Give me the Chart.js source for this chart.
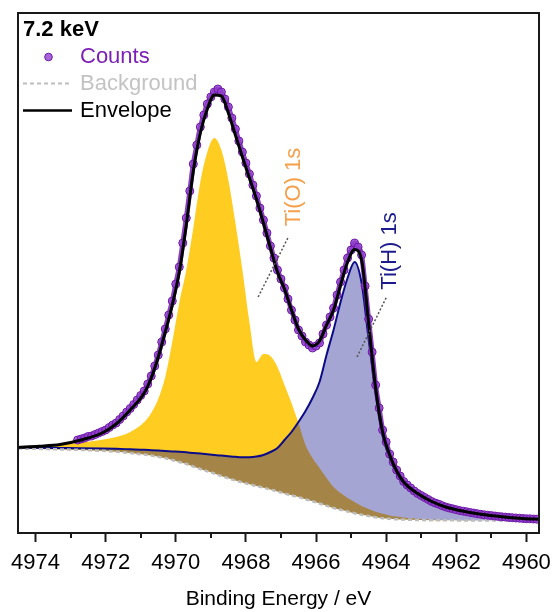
<!DOCTYPE html>
<html>
<head>
<meta charset="utf-8">
<title>Ti 1s HAXPES - 7.2 keV</title>
<script src="https://cdn.jsdelivr.net/npm/chart.js@4.4.1/dist/chart.umd.min.js"></script>
<style>
  html, body { margin: 0; padding: 0; background: #fff; }
  #wrap { position: relative; width: 553px; height: 612px; }
</style>
</head>
<body>
<div id="wrap"><canvas id="spectrum"></canvas></div>
<script>
/* ========================================
   Ti 1s spectrum at 7.2 keV
   binding energy in eV, intensity in arb. units
   ======================================== */

// energy grid of the fitted curves
const fitEnergy = [
  4974.5, 4973.9, 4973.3, 4972.7, 4972.1, 4971.7, 4971.3, 4970.9, 4970.7, 4970.5,
  4970.3, 4970.1, 4969.9, 4969.7, 4969.5, 4969.3, 4969.1, 4968.9, 4968.7, 4968.5,
  4968.3, 4968.1, 4967.9, 4967.7, 4967.5, 4967.3, 4967.1, 4966.9, 4966.7, 4966.5,
  4966.3, 4966.1, 4965.9, 4965.7, 4965.5, 4965.3, 4965.1, 4964.9, 4964.7, 4964.5,
  4964.3, 4964.1, 4963.9, 4963.7, 4963.5, 4963.1, 4962.7, 4962.3, 4961.9, 4961.3,
  4960.7, 4960.1, 4959.6
];

const backgroundFit = [
  84.5, 84.1, 83.6, 83.1, 82.2, 81.3, 80, 78.4, 77.4, 76.2,
  74.8, 73, 71, 69, 66.5, 64, 61.7, 59.5, 57, 54.7,
  52.5, 50.5, 48.7, 47, 45.3, 43.5, 41.5, 39.5, 37.7, 36,
  33.7, 31.7, 29.5, 27.3, 25, 23.2, 21.5, 19.7, 18.2, 17,
  15.8, 14.8, 14.2, 13.7, 13.4, 13, 12.8, 12.7, 12.6, 12.5,
  12.4, 12.3, 12.3
];

// Ti(O) 1s component, on top of the background
const tiOFit = [
  84.7, 86.2, 88, 90.5, 93.3, 96, 101, 111, 120, 134,
  156, 191, 230, 263, 305, 351, 381, 395, 383, 353,
  310, 263, 211, 171, 179, 177, 166, 148, 130, 110,
  88, 75, 65, 55, 46, 40, 35, 31, 27, 24,
  21.3, 19.2, 17.6, 16.4, 15.5, 14.2, 13.4, 13, 12.7, 12.5,
  12.4, 12.3, 12.3
];

// Ti(H) 1s component, on top of the background
const tiHFit = [
  85.3, 85.2, 85, 84.8, 84.5, 84.2, 83.7, 83.2, 82.8, 82.4,
  82, 81.6, 81.2, 80.7, 80, 79.4, 78.7, 78, 77.4, 76.8,
  76.2, 75.8, 75.8, 76.4, 78, 81, 85, 93, 101, 111,
  122, 135, 151, 178, 203, 231, 255, 271, 250, 194,
  140, 97, 75, 59.5, 48.5, 37.5, 30, 25, 21.5, 18,
  15.7, 14.2, 13.5
];

const envelopeFit = [
  85.5, 86.7, 88.5, 93, 100, 109, 123, 140, 155, 176,
  201, 228, 261, 308, 362, 400, 424, 438, 437, 420,
  398, 376, 355, 334, 310, 285, 261, 244, 223, 204,
  193, 187, 192, 208, 223, 248, 271, 283.5, 273, 210,
  145, 101, 78, 62, 51, 39.5, 31.5, 26, 22.5, 18.7,
  16.2, 14.5, 13.7
];

// measured counts, 0.1 eV steps starting at 4972.8 eV
const countsStart = 4972.8;
const countsStep = 0.1;
const counts = [
  93, 94, 95, 96.5, 97, 98.5, 100, 101.5, 103, 105.5,
  108, 110, 113.5, 117, 121, 124.5, 128.5, 133, 137.5, 142,
  149, 157, 167, 178, 191, 204, 218, 232, 249, 266,
  290, 315, 342, 369, 388, 406, 418, 429, 436, 441,
  444, 441, 434, 426, 415, 404, 392, 381, 370, 359,
  348, 337, 325, 313, 300, 287, 275, 263, 254, 245,
  234, 223, 213, 203, 197, 191, 188, 185, 187, 190,
  199, 208, 216, 225, 238, 251, 263, 275, 283, 290,
  286, 278, 247, 214, 181, 148, 125, 103, 91, 79,
  71, 63, 57, 51.5, 48, 45, 42, 39.5, 37.5, 35.5,
  33.5, 31.5, 30, 28.8, 27.3, 26, 25, 24.2, 23.3, 22.4,
  21.8, 21.2, 20.5, 19.9, 19.3, 18.7, 18.2, 17.8, 17.4, 17,
  16.6, 16.2, 15.9, 15.6, 15.3, 15, 14.8, 14.5, 14.3, 14.2,
  14, 13.8
];

const xTicks = [4974, 4972, 4970, 4968, 4966, 4964, 4962, 4960];
const xMinorTicks = [4973, 4971, 4969, 4967, 4965, 4963, 4961];

// peak labels with their leader lines (energy, intensity)
const peakLabels = [
  { text: 'Ti(O) 1s', color: '#f5a04c', from: [4967.65, 236], to: [4966.79, 296], at: [4966.62, 346] },
  { text: 'Ti(H) 1s', color: '#1c1c8c', from: [4964.83, 176], to: [4963.99, 236], at: [4963.88, 282] }
];

// ========================================
// Styles
// ========================================
const FONT = '"Liberation Sans", Arial, sans-serif';
const COLORS = {
  counts: '#6e17a8',
  countsText: '#7c1fb5',
  countsFill: 'rgba(145, 65, 205, 0.8)',
  countsBand: 'rgba(120, 30, 185, 0.85)',
  background: '#bdbdbd',
  backgroundText: '#c3c3c3',
  envelope: '#000000',
  tiO: '#ffcc22',
  tiH: '#0c0c88',
  tiHFill: 'rgba(12, 12, 136, 0.37)',
  frame: '#1a1a1a'
};

function toPoints(xs, ys) {
  return ys.map((v, i) => ({ x: xs[i], y: v }));
}

const countsEnergy = counts.map((_, i) => +(countsStart - i * countsStep).toFixed(2));

// ========================================
// Frame, minor ticks, peak labels, legend
// ========================================
const decorPlugin = {
  id: 'decor',
  afterDraw(chart) {
    const { ctx, chartArea: a, scales: { x, y } } = chart;
    ctx.save();

    // minor ticks
    ctx.strokeStyle = COLORS.frame;
    ctx.lineWidth = 2;
    xMinorTicks.forEach(v => {
      const px = Math.round(x.getPixelForValue(v));
      ctx.beginPath();
      ctx.moveTo(px, a.bottom);
      ctx.lineTo(px, a.bottom + 5);
      ctx.stroke();
    });

    // frame
    ctx.strokeRect(a.left, a.top, a.right - a.left, a.bottom - a.top);

    // peak labels
    peakLabels.forEach(p => {
      ctx.strokeStyle = '#555';
      ctx.lineWidth = 1.5;
      ctx.setLineDash([2, 2]);
      ctx.beginPath();
      ctx.moveTo(x.getPixelForValue(p.from[0]), y.getPixelForValue(p.from[1]));
      ctx.lineTo(x.getPixelForValue(p.to[0]), y.getPixelForValue(p.to[1]));
      ctx.stroke();
      ctx.setLineDash([]);

      ctx.save();
      ctx.translate(x.getPixelForValue(p.at[0]), y.getPixelForValue(p.at[1]));
      ctx.rotate(-Math.PI / 2);
      ctx.font = '22px ' + FONT;
      ctx.fillStyle = p.color;
      ctx.textAlign = 'center';
      ctx.textBaseline = 'middle';
      ctx.fillText(p.text, 0, 0);
      ctx.restore();
    });

    // legend
    const lx = a.left;
    const ly = a.top;
    ctx.textAlign = 'left';
    ctx.textBaseline = 'middle';
    ctx.font = 'bold 22px ' + FONT;
    ctx.fillStyle = '#000';
    ctx.fillText('7.2 keV', lx + 5, ly + 16.5);

    ctx.font = '22px ' + FONT;
    ctx.beginPath();
    ctx.arc(lx + 30.5, ly + 44, 3.8, 0, Math.PI * 2);
    ctx.fillStyle = COLORS.countsFill;
    ctx.fill();
    ctx.lineWidth = 1;
    ctx.strokeStyle = COLORS.counts;
    ctx.stroke();
    ctx.fillStyle = COLORS.countsText;
    ctx.fillText('Counts', lx + 62, ly + 44);

    ctx.strokeStyle = COLORS.background;
    ctx.lineWidth = 2;
    ctx.setLineDash([4, 3]);
    ctx.beginPath();
    ctx.moveTo(lx + 5, ly + 70.5);
    ctx.lineTo(lx + 54, ly + 70.5);
    ctx.stroke();
    ctx.setLineDash([]);
    ctx.fillStyle = COLORS.backgroundText;
    ctx.fillText('Background', lx + 62, ly + 70.5);

    ctx.strokeStyle = COLORS.envelope;
    ctx.lineWidth = 2.5;
    ctx.beginPath();
    ctx.moveTo(lx + 5, ly + 97.5);
    ctx.lineTo(lx + 54, ly + 97.5);
    ctx.stroke();
    ctx.fillStyle = '#000';
    ctx.fillText('Envelope', lx + 62, ly + 97.5);

    ctx.restore();
  }
};

// ========================================
// Chart
// ========================================
function initializeSpectrum() {
  const ctx = document.getElementById('spectrum');

  new Chart(ctx, {
    type: 'line',
    data: {
      datasets: [
        {
          label: 'Background',
          data: toPoints(fitEnergy, backgroundFit),
          borderColor: COLORS.background,
          borderWidth: 2.5,
          borderDash: [4, 3],
          pointRadius: 0,
          fill: false,
          cubicInterpolationMode: 'monotone',
          order: 3
        },
        {
          label: 'Ti(O) 1s',
          data: toPoints(fitEnergy, tiOFit),
          borderColor: 'transparent',
          borderWidth: 0,
          backgroundColor: COLORS.tiO,
          pointRadius: 0,
          fill: 0,
          cubicInterpolationMode: 'monotone',
          order: 5
        },
        {
          label: 'Ti(H) 1s',
          data: toPoints(fitEnergy, tiHFit),
          borderColor: COLORS.tiH,
          borderWidth: 2,
          backgroundColor: COLORS.tiHFill,
          pointRadius: 0,
          fill: 0,
          cubicInterpolationMode: 'monotone',
          order: 4
        },
        {
          label: 'Counts',
          data: toPoints(countsEnergy, counts),
          showLine: true,
          borderColor: COLORS.countsBand,
          borderWidth: 5,
          cubicInterpolationMode: 'monotone',
          fill: false,
          pointRadius: 4,
          pointBorderWidth: 1,
          pointBackgroundColor: COLORS.countsFill,
          pointBorderColor: COLORS.counts,
          order: 2
        },
        {
          label: 'Envelope',
          data: toPoints(fitEnergy, envelopeFit),
          borderColor: COLORS.envelope,
          borderWidth: 3,
          pointRadius: 0,
          fill: false,
          cubicInterpolationMode: 'monotone',
          order: 1
        }
      ]
    },
    options: {
      responsive: true,
      maintainAspectRatio: false,
      animation: false,
      layout: { padding: { left: 18, right: 14, top: 13, bottom: 0 } },
      plugins: {
        legend: { display: false },
        tooltip: { enabled: false }
      },
      scales: {
        x: {
          type: 'linear',
          reverse: true,
          min: 4959.64,
          max: 4974.5,
          afterFit(scale) {
            // fixed axis band; edge labels may overhang the frame
            scale.height = 79;
            scale.paddingLeft = 0;
            scale.paddingRight = 0;
          },
          afterBuildTicks(scale) { scale.ticks = xTicks.map(v => ({ value: v })); },
          border: { display: false },
          grid: {
            drawOnChartArea: false,
            drawTicks: true,
            tickLength: 9,
            tickWidth: 2,
            tickColor: COLORS.frame
          },
          ticks: {
            color: '#000',
            font: { size: 22, family: FONT },
            padding: 8,
            maxRotation: 0,
            autoSkip: false,
            callback: v => String(v)
          },
          title: {
            display: true,
            text: 'Binding Energy / eV',
            color: '#000',
            font: { size: 21, family: FONT },
            padding: { top: 0, bottom: 0 }
          }
        },
        y: {
          display: false,
          min: 0,
          max: 520
        }
      }
    },
    plugins: [decorPlugin]
  });
}

document.addEventListener('DOMContentLoaded', initializeSpectrum);
</script>
</body>
</html>
